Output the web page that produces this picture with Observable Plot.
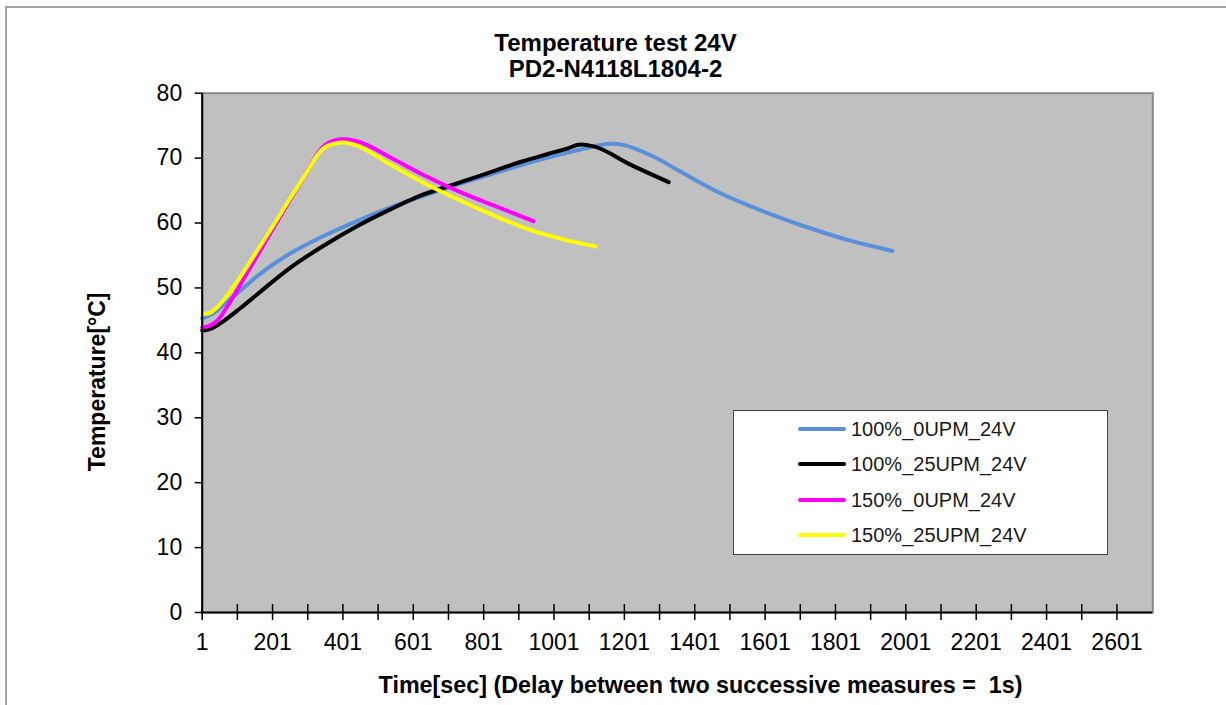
<!DOCTYPE html>
<html><head><meta charset="utf-8">
<script src="https://cdn.jsdelivr.net/npm/d3@7"></script>
<script src="https://cdn.jsdelivr.net/npm/@observablehq/plot@0.6"></script>
<style>
html,body{margin:0;padding:0;background:#fff;}
#wrap{position:relative;width:1226px;height:705px;overflow:hidden;font-family:"Liberation Sans",Arial,sans-serif;}
#wrap svg{position:absolute;left:0;top:0;}
#border{position:absolute;left:5px;top:6px;right:-10px;bottom:-10px;border-top:2px solid #a3a3a3;border-left:2px solid #a3a3a3;pointer-events:none;}
#legend{position:absolute;left:733px;top:410px;width:373px;height:143px;background:#fff;border:1.5px solid #404040;}
.row{position:absolute;left:0;width:100%;height:30px;}
.swatch{position:absolute;left:64px;top:13px;width:48px;height:4px;border-radius:2px;}
.lab{position:absolute;left:117px;top:0;line-height:30px;font-size:20px;color:#1a1a1a;white-space:nowrap;}
</style></head>
<body><div id="wrap"></div>
<script>
// ---- data ----
const titleLines = ["Temperature test 24V", "PD2-N4118L1804-2"];
const xLabel = "Time[sec] (Delay between two successive measures =  1s)";
const yLabel = "Temperature[°C]";
const seriesNames = ["100%_0UPM_24V", "100%_25UPM_24V", "150%_0UPM_24V", "150%_25UPM_24V"];
const seriesColors = ["#5a8fd9", "#000000", "#ff00ff", "#ffff00"];

const blueTime = [1, 30, 62, 110, 157, 251, 346, 441, 536, 630, 725, 792, 905, 1019, 1090, 1130, 1165, 1200, 1235, 1285, 1361, 1455, 1550, 1645, 1740, 1835, 1963];
const blueTemp = [45.3, 46.0, 47.4, 49.6, 51.8, 55.3, 58.0, 60.3, 62.4, 64.2, 65.9, 67.0, 68.9, 70.6, 71.5, 72.0, 72.2, 72.0, 71.4, 70.2, 67.9, 65.1, 62.8, 60.8, 59.0, 57.4, 55.7];

const blackTime = [1, 30, 62, 110, 157, 251, 346, 441, 536, 630, 725, 792, 905, 981, 1040, 1076, 1114, 1218, 1327];
const blackTemp = [43.4, 43.8, 44.9, 46.9, 49.0, 53.1, 56.5, 59.5, 62.1, 64.4, 66.1, 67.3, 69.4, 70.6, 71.5, 72.1, 71.8, 69.0, 66.3];

const magTime = [1, 20, 43, 81, 118, 157, 204, 251, 299, 330, 350, 375, 403, 441, 536, 630, 725, 820, 943];
const magTemp = [43.9, 44.1, 44.9, 47.9, 51.3, 54.9, 59.3, 63.6, 67.9, 70.8, 72.0, 72.7, 72.9, 72.6, 70.1, 67.4, 65.0, 62.9, 60.3];

const yelTime = [1, 20, 43, 81, 118, 157, 204, 251, 299, 330, 350, 375, 403, 441, 536, 630, 725, 820, 905, 1019, 1119];
const yelTemp = [46.0, 46.1, 47.0, 49.5, 52.4, 55.7, 59.7, 63.8, 67.9, 70.6, 71.7, 72.2, 72.4, 71.9, 69.0, 66.2, 63.7, 61.4, 59.5, 57.6, 56.4];

const yTicks = [0, 10, 20, 30, 40, 50, 60, 70, 80];
const xTickMarks = [1, 101, 201, 301, 401, 501, 601, 701, 801, 901, 1001, 1101, 1201, 1301, 1401, 1501, 1601, 1701, 1801, 1901, 2001, 2101, 2201, 2301, 2401, 2501, 2601];
const xTickLabels = [1, 201, 401, 601, 801, 1001, 1201, 1401, 1601, 1801, 2001, 2201, 2401, 2601];
const xDomain = [1, 2703];
const yDomain = [0, 80];

// ---- build table ----
const timeSets = [blueTime, blackTime, magTime, yelTime];
const tempSets = [blueTemp, blackTemp, magTemp, yelTemp];
const rows = [];
seriesNames.forEach((s, i) => timeSets[i].forEach((t, j) => rows.push({series: s, t, T: tempSets[i][j]})));

const font = '"Liberation Sans", Arial, sans-serif';
const chart = Plot.plot({
  width: 1226, height: 705,
  marginLeft: 201.7, marginRight: 73.7, marginTop: 92.7, marginBottom: 93,
  style: {fontFamily: font, fontSize: "23px", color: "#000", background: "transparent"},
  x: {domain: xDomain, axis: null},
  y: {domain: yDomain, axis: null},
  color: {domain: seriesNames, range: seriesColors},
  marks: [
    Plot.frame({fill: "#c0c0c0"}),
    Plot.line(rows, {x: "t", y: "T", z: "series", stroke: "series", strokeWidth: 4, curve: "monotone-x", strokeLinecap: "round", strokeLinejoin: "round"}),
    Plot.frame({stroke: "#8a8a8a", strokeWidth: 2}),
    Plot.ruleX([xDomain[0]], {stroke: "black", strokeWidth: 2}),
    Plot.ruleY([yDomain[0]], {stroke: "black", strokeWidth: 2}),
    Plot.axisY({ticks: yTicks, tickSize: 7, tickPadding: 13, label: null, stroke: "black", strokeWidth: 1.5, fontSize: 23, fill: "#000"}),
    Plot.ruleX(xTickMarks, {x: d => d, y1: 0, y2: 0, insetTop: -8, insetBottom: -8, stroke: "black", strokeWidth: 1.5}),
    Plot.axisX({ticks: xTickLabels, tickSize: 0, tickPadding: 21, label: null, tickFormat: d => String(d), fontSize: 23, fill: "#000"}),
    Plot.text([titleLines[0]], {text: d => d, frameAnchor: "top", textAnchor: "middle", lineAnchor: "middle", dx: -62, dy: -50, fontSize: 24, fontWeight: "bold", fill: "#000"}),
    Plot.text([titleLines[1]], {text: d => d, frameAnchor: "top", textAnchor: "middle", lineAnchor: "middle", dx: -62, dy: -23.5, fontSize: 24, fontWeight: "bold", fill: "#000"}),
    Plot.text([xLabel], {text: d => d, frameAnchor: "bottom", textAnchor: "middle", lineAnchor: "middle", dx: 23, dy: 73, fontSize: 23.3, fontWeight: "bold", fill: "#000"}),
    Plot.text([yLabel], {text: d => d, frameAnchor: "left", textAnchor: "middle", lineAnchor: "middle", rotate: -90, dx: -105, dy: 29, fontSize: 23, fontWeight: "bold", fill: "#000"})
  ]
});

const wrap = document.getElementById("wrap");
wrap.appendChild(chart);
const border = document.createElement("div");
border.id = "border";
wrap.appendChild(border);

const legend = document.createElement("div");
legend.id = "legend";
seriesNames.forEach((s, i) => {
  const row = document.createElement("div");
  row.className = "row";
  row.style.top = (18 + i * 35.4 - 15) + "px";
  const sw = document.createElement("div");
  sw.className = "swatch";
  sw.style.background = seriesColors[i];
  const lab = document.createElement("div");
  lab.className = "lab";
  lab.textContent = s;
  row.appendChild(sw); row.appendChild(lab);
  legend.appendChild(row);
});
wrap.appendChild(legend);
</script>
</body></html>
